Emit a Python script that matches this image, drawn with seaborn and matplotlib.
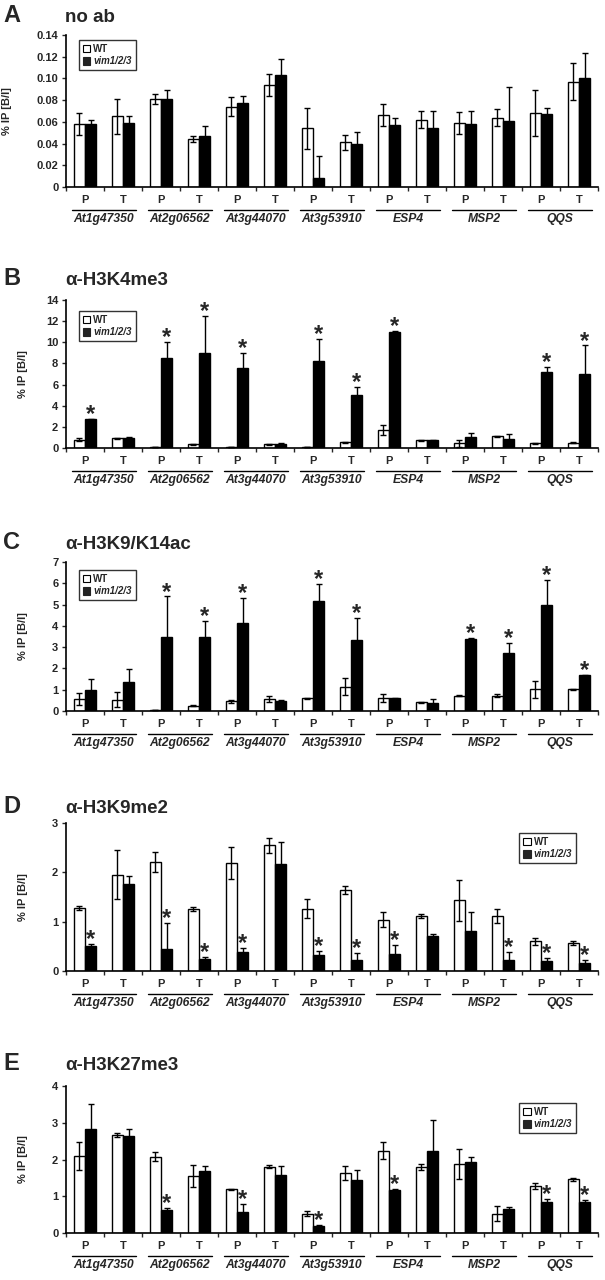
import matplotlib
matplotlib.use("Agg")
import matplotlib.pyplot as plt
import matplotlib.transforms as mtransforms
from matplotlib.patches import Patch
import seaborn as sns
import numpy as np
import pandas as pd

genes = ['At1g47350', 'At2g06562', 'At3g44070', 'At3g53910', 'ESP4', 'MSP2', 'QQS']
regions = ['P', 'T']
genotypes = ['WT', 'vim1/2/3']

# panel A: no ab
wt_a = [0.058, 0.065, 0.081, 0.044, 0.074, 0.094, 0.054, 0.041, 0.066, 0.062, 0.059, 0.064, 0.068, 0.097]
wt_a_err = [0.010, 0.016, 0.005, 0.003, 0.009, 0.010, 0.019, 0.007, 0.010, 0.008, 0.010, 0.008, 0.021, 0.017]
vim_a = [0.058, 0.059, 0.081, 0.047, 0.077, 0.103, 0.008, 0.040, 0.057, 0.054, 0.058, 0.061, 0.067, 0.100]
vim_a_err = [0.004, 0.006, 0.008, 0.009, 0.007, 0.015, 0.021, 0.011, 0.007, 0.016, 0.012, 0.031, 0.006, 0.023]
sig_a = []

# panel B: H3K4me3
wt_b = [0.8, 0.9, 0.1, 0.35, 0.1, 0.35, 0.1, 0.55, 1.7, 0.75, 0.45, 1.1, 0.45, 0.5]
wt_b_err = [0.1, 0.05, 0.02, 0.05, 0.02, 0.05, 0.02, 0.03, 0.5, 0.05, 0.35, 0.05, 0.05, 0.05]
vim_b = [2.7, 0.95, 8.5, 9.0, 7.55, 0.4, 8.2, 5.0, 11.0, 0.75, 1.0, 0.85, 7.2, 7.0]
vim_b_err = [0.05, 0.05, 1.5, 3.5, 1.4, 0.03, 2.1, 0.75, 0.1, 0.05, 0.4, 0.45, 0.5, 2.7]
sig_b = [0, 2, 3, 4, 6, 7, 8, 12, 13]

# panel C: H3K9/K14ac
wt_c = [0.55, 0.52, 0.05, 0.25, 0.45, 0.55, 0.6, 1.15, 0.6, 0.4, 0.72, 0.72, 1.02, 1.02]
wt_c_err = [0.28, 0.35, 0.02, 0.03, 0.08, 0.15, 0.03, 0.4, 0.2, 0.02, 0.02, 0.07, 0.4, 0.02]
vim_c = [0.99, 1.35, 3.5, 3.5, 4.15, 0.45, 5.18, 3.33, 0.6, 0.36, 3.4, 2.72, 5.0, 1.68]
vim_c_err = [0.5, 0.63, 1.88, 0.74, 1.18, 0.08, 0.78, 1.04, 0.03, 0.19, 0.02, 0.47, 1.15, 0.02]
sig_c = [2, 3, 4, 6, 7, 10, 11, 12, 13]

# panel D: H3K9me2
wt_d = [1.27, 1.95, 2.21, 1.26, 2.19, 2.55, 1.26, 1.64, 1.04, 1.12, 1.43, 1.12, 0.6, 0.56]
wt_d_err = [0.04, 0.5, 0.2, 0.04, 0.32, 0.15, 0.19, 0.075, 0.15, 0.04, 0.42, 0.14, 0.07, 0.04]
vim_d = [0.5, 1.77, 0.45, 0.25, 0.39, 2.16, 0.33, 0.22, 0.35, 0.7, 0.82, 0.23, 0.2, 0.17]
vim_d_err = [0.05, 0.15, 0.52, 0.03, 0.08, 0.46, 0.08, 0.14, 0.17, 0.05, 0.37, 0.16, 0.07, 0.05]
sig_d = [0, 2, 3, 4, 6, 7, 8, 11, 12, 13]

# panel E: H3K27me3
wt_e = [2.1, 2.67, 2.08, 1.56, 1.19, 1.8, 0.53, 1.63, 2.24, 1.79, 1.88, 0.53, 1.28, 1.46]
wt_e_err = [0.38, 0.06, 0.13, 0.3, 0.02, 0.04, 0.07, 0.18, 0.23, 0.08, 0.41, 0.21, 0.08, 0.05]
vim_e = [2.83, 2.65, 0.63, 1.68, 0.57, 1.58, 0.19, 1.45, 1.16, 2.24, 1.92, 0.64, 0.85, 0.85]
vim_e_err = [0.67, 0.18, 0.06, 0.15, 0.21, 0.23, 0.03, 0.27, 0.05, 0.83, 0.14, 0.08, 0.08, 0.05]
sig_e = [2, 4, 6, 8, 12, 13]

sns.set_style('ticks')
plt.rcParams['font.family'] = ['Liberation Sans', 'DejaVu Sans']
plt.rcParams['font.weight'] = 'bold'

W, H = 605, 1280
fig = plt.figure(figsize=(W / 100, H / 100), dpi=100)

positions = [g + ' ' + r for g in genes for r in regions]

panels = [
    dict(letter='A', title='no ab', top=35, bottom=187, wt=wt_a, wte=wt_a_err, vim=vim_a, vime=vim_a_err,
         sig=sig_a, ymax=0.14, ticks=np.arange(0, 0.141, 0.02), leg='left', legy=0.967, ylabx=-0.1015, base=22),
    dict(letter='B', title='α-H3K4me3', top=300, bottom=448, wt=wt_b, wte=wt_b_err, vim=vim_b, vime=vim_b_err,
         sig=sig_b, ymax=14, ticks=np.arange(0, 15, 2), leg='left', legy=0.926, ylabx=-0.071, base=285),
    dict(letter='C', title='α-H3K9/K14ac', top=562, bottom=711, wt=wt_c, wte=wt_c_err, vim=vim_c, vime=vim_c_err,
         sig=sig_c, ymax=7, ticks=np.arange(0, 8, 1), leg='left', legy=0.946, ylabx=-0.071, base=549),
    dict(letter='D', title='α-H3K9me2', top=823, bottom=971, wt=wt_d, wte=wt_d_err, vim=vim_d, vime=vim_d_err,
         sig=sig_d, ymax=3, ticks=np.arange(0, 4, 1), leg='right', legy=0.932, ylabx=-0.071, base=813),
    dict(letter='E', title='α-H3K27me3', top=1086, bottom=1233, wt=wt_e, wte=wt_e_err, vim=vim_e, vime=vim_e_err,
         sig=sig_e, ymax=4, ticks=np.arange(0, 5, 1), leg='right', legy=0.884, ylabx=-0.071, base=1070),
]

left_px, right_px = 66, 598

for p in panels:
    ax = fig.add_axes([left_px / W, 1 - p['bottom'] / H, (right_px - left_px) / W, (p['bottom'] - p['top']) / H])

    df = pd.DataFrame({
        'pos': positions * 2,
        'genotype': ['WT'] * 14 + ['vim1/2/3'] * 14,
        'value': p['wt'] + p['vim'],
    })
    sns.barplot(data=df, x='pos', y='value', hue='genotype', order=positions, hue_order=genotypes,
                palette={'WT': 'white', 'vim1/2/3': 'black'}, edgecolor='black', linewidth=1.0,
                width=0.6, errorbar=None, legend=False, ax=ax)

    errs = [p['wte'], p['vime']]
    bar_sets = [list(c) for c in ax.containers[:2]]
    for k, bars in enumerate(bar_sets):
        for i, bar in enumerate(bars):
            x = bar.get_x() + bar.get_width() / 2
            h = bar.get_height()
            ax.errorbar(x, h, yerr=errs[k][i], fmt='none', ecolor='black', elinewidth=1.0,
                        capsize=2.3, capthick=1.0, zorder=3)
            if k == 1 and i in p['sig']:
                ax.annotate('*', xy=(x, h + errs[k][i]), xytext=(0, -1.5), textcoords='offset points',
                            ha='center', va='baseline', fontsize=17, fontweight='bold')

    ax.set_xlim(-0.5, 13.5)
    ax.set_ylim(0, p['ymax'])
    ax.set_yticks(p['ticks'])
    if p['letter'] == 'A':
        ax.set_yticklabels(['0'] + ['%.2f' % t for t in p['ticks'][1:]])
    else:
        ax.set_yticklabels(['%d' % t for t in p['ticks']])
    ax.tick_params(axis='y', length=3, width=1.0, pad=2.5, labelsize=8)

    ax.set_xticks(np.arange(14))
    ax.set_xticklabels(regions * 7)
    ax.set_xticks(np.arange(-0.5, 14, 1), minor=True)
    ax.tick_params(axis='x', which='major', length=0, pad=6, labelsize=8)
    ax.tick_params(axis='x', which='minor', length=3, width=1.0)
    ax.set_xlabel('')
    ax.set_ylabel('% IP [B/I]', fontsize=8, fontweight='bold')
    ax.yaxis.set_label_coords(p['ylabx'], 0.5)

    sns.despine(ax=ax)
    for s in ['left', 'bottom']:
        ax.spines[s].set_linewidth(1.2)
        ax.spines[s].set_color('black')

    # gene group underline and labels
    line_tr = mtransforms.offset_copy(ax.get_xaxis_transform(), fig=fig, y=-23, units='dots')
    text_tr = mtransforms.offset_copy(ax.get_xaxis_transform(), fig=fig, y=-35, units='dots')
    for gi, g in enumerate(genes):
        x0 = gi * 2
        ax.plot([x0 - 0.33, x0 + 1.33], [0, 0], color='black', lw=1.0, transform=line_tr, clip_on=False)
        ax.text(x0 + 0.5, 0, g, transform=text_tr, ha='center', va='baseline', fontsize=8.7,
                fontweight='bold', fontstyle='italic')

    handles = [Patch(facecolor='white', edgecolor='black', linewidth=0.8),
               Patch(facecolor='#222222', edgecolor='#222222', linewidth=0.8)]
    leg_kw = dict(fancybox=False, handlelength=0.8, handleheight=0.8, handletextpad=0.3,
                  borderpad=0.4, labelspacing=0.25, borderaxespad=0,
                  prop={'size': 7, 'weight': 'bold'})
    if p['leg'] == 'left':
        leg = ax.legend(handles, genotypes, loc='upper left', bbox_to_anchor=(0.024, p['legy']), **leg_kw)
    else:
        leg = ax.legend(handles, genotypes, loc='upper right', bbox_to_anchor=(0.959, p['legy']), **leg_kw)
    leg.get_frame().set_edgecolor('black')
    leg.get_frame().set_linewidth(1.0)
    leg.get_texts()[1].set_fontstyle('italic')

    fig.text(3 / W, 1 - p['base'] / H, p['letter'], ha='left', va='baseline', fontsize=17, fontweight='bold')
    fig.text(65 / W, 1 - p['base'] / H, p['title'], ha='left', va='baseline', fontsize=13.5, fontweight='bold')

fig.savefig('out.png', dpi=100)
